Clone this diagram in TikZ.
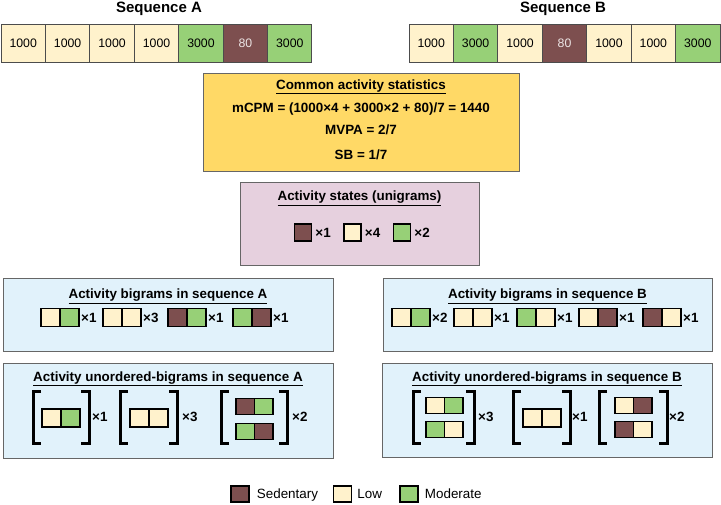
\documentclass[tikz,border=0pt]{standalone}
\usepackage{fontspec}
\setmainfont{Liberation Sans}
\usetikzlibrary{positioning}
\definecolor{lowfill}{HTML}{FFF2CC}
\definecolor{modfill}{HTML}{97D077}
\definecolor{sedfill}{HTML}{7D4F4F}
\definecolor{statfill}{HTML}{FFD966}
\definecolor{unifill}{HTML}{E6D0DE}
\definecolor{bifill}{HTML}{E1F2FB}
\definecolor{edgegray}{HTML}{666666}

\tikzset{
  lowc/.style={fill=lowfill},
  modc/.style={fill=modfill},
  sedc/.style={fill=sedfill,text=white!85!sedfill},
  seqcell/.style={draw=black!70,line width=1pt,minimum width=44.4pt,minimum height=38pt,
    inner sep=0pt,outer sep=0pt,font=\fontsize{12.3}{14}\selectfont},
  seqtitle/.style={font=\fontsize{15}{17}\selectfont\bfseries,inner sep=0pt,anchor=base},
  panel/.style={draw=edgegray,line width=1pt,inner sep=0pt,outer sep=0pt},
  heading/.style={font=\fontsize{13.4}{15}\selectfont\bfseries,inner sep=0pt,anchor=base},
  bi/.style={draw=black,line width=1.2pt,minimum width=19pt,minimum height=18pt,inner sep=0pt,outer sep=0pt},
  smallbi/.style={minimum width=18.5pt,minimum height=16.5pt},
  cnt/.style={font=\fontsize{13.4}{15}\selectfont\bfseries,inner sep=0pt},
  bracket/.style={line width=3pt},
  key/.style={draw=black,line width=1.5pt,minimum width=17pt,minimum height=17pt,inner sep=0pt},
  keytext/.style={font=\fontsize{13.4}{15}\selectfont,inner sep=0pt,text depth=0pt},
}

% two coloured cells side by side
\newcommand{\duo}[5][]{%
  \node[bi,#1,#4,anchor=west] (#2-l) at (#3) {};
  \node[bi,#1,#5,right=0pt of #2-l] (#2-r) {};}

% square bracket: #1 = x of the spine, #2 = side it opens to (1 or -1)
\newcommand{\brak}[2]{%
  \draw[bracket] ({#1+8*#2},391) -- (#1,391) -- (#1,443) -- ({#1+8*#2},443);}

\begin{document}
\begin{tikzpicture}[x=1pt,y=-1pt]
	\useasboundingbox (0,0) rectangle (721,504);
	% Sequences
	\node[seqtitle] (seqA) at (159,12) {Sequence A};
	\node[seqtitle] (seqB) at (563,12) {Sequence B};
	\foreach \v/\c [count=\i] in {1000/lowc,1000/lowc,1000/lowc,1000/lowc,3000/modc,80/sedc,3000/modc}
		\node[seqcell,\c] (a\i) at ({1+44.43*(\i-0.5)},43) {\v};
	\foreach \v/\c [count=\i] in {1000/lowc,3000/modc,1000/lowc,80/sedc,1000/lowc,1000/lowc,3000/modc}
		\node[seqcell,\c] (b\i) at ({409+44.43*(\i-0.5)},43) {\v};

	% Common statistics
	\node[panel,fill=statfill,minimum width=316pt,minimum height=98pt] (stats) at (361,122) {};
	\node[heading] (stats-t) at (361,89.5) {\underline{Common activity statistics}};
	\node[heading] (stats-1) at (361,112.5) {mCPM = (1000×4 + 3000×2 + 80)/7 = 1440};
	\node[heading] (stats-2) at (361,134.5) {MVPA = 2/7};
	\node[heading] (stats-3) at (361,159) {SB = 1/7};

	% Unigrams
	\node[panel,fill=unifill,minimum width=239pt,minimum height=83pt] (uni) at (359.5,223.5) {};
	\node[heading] (uni-t) at (359.5,200.5) {\underline{Activity states (unigrams)}};
	\node[key,sedc] (u1) at (303,232.5) {};
	\node[cnt,right=3pt of u1] (u1-n) {×1};
	\node[key,lowc] (u2) at (352.5,232.5) {};
	\node[cnt,right=3pt of u2] (u2-n) {×4};
	\node[key,modc] (u3) at (402,232.5) {};
	\node[cnt,right=3pt of u3] (u3-n) {×2};

	% Bigrams in A
	\node[panel,fill=bifill,minimum width=330pt,minimum height=73pt] (biA) at (168,314.5) {};
	\node[heading] (biA-t) at (168,298.5) {\underline{Activity bigrams in sequence A}};
	\duo{ba1}{41,317.5}{lowc}{modc}
	\node[cnt,right=2pt of ba1-r] (ba1-n) {×1};
	\duo{ba2}{103,317.5}{lowc}{lowc}
	\node[cnt,right=2pt of ba2-r] (ba2-n) {×3};
	\duo{ba3}{168,317.5}{sedc}{modc}
	\node[cnt,right=2pt of ba3-r] (ba3-n) {×1};
	\duo{ba4}{233,317.5}{modc}{sedc}
	\node[cnt,right=2pt of ba4-r] (ba4-n) {×1};

	% Bigrams in B
	\node[panel,fill=bifill,minimum width=329pt,minimum height=73pt] (biB) at (547.5,314.5) {};
	\node[heading] (biB-t) at (547.5,298.5) {\underline{Activity bigrams in sequence B}};
	\duo{bb1}{392,317.5}{lowc}{modc}
	\node[cnt,right=2pt of bb1-r] (bb1-n) {×2};
	\duo{bb2}{454,317.5}{lowc}{lowc}
	\node[cnt,right=2pt of bb2-r] (bb2-n) {×1};
	\duo{bb3}{517,317.5}{modc}{lowc}
	\node[cnt,right=2pt of bb3-r] (bb3-n) {×1};
	\duo{bb4}{579,317.5}{lowc}{sedc}
	\node[cnt,right=2pt of bb4-r] (bb4-n) {×1};
	\duo{bb5}{643,317.5}{sedc}{lowc}
	\node[cnt,right=2pt of bb5-r] (bb5-n) {×1};

	% Unordered bigrams in A
	\node[panel,fill=bifill,minimum width=330pt,minimum height=95pt] (unA) at (168,410.5) {};
	\node[heading] (unA-t) at (168,381) {\underline{Activity unordered-bigrams in sequence A}};
	\brak{33}{1} \brak{89}{-1}
	\duo{ua1}{42,418}{lowc}{modc}
	\node[cnt,anchor=west] (ua1-n) at (92,417) {×1};
	\brak{120}{1} \brak{177}{-1}
	\duo{ua2}{130,418}{lowc}{lowc}
	\node[cnt,anchor=west] (ua2-n) at (182,417) {×3};
	\brak{221}{1} \brak{287}{-1}
	\duo[smallbi]{ua3}{236,406.5}{sedc}{modc}
	\duo[smallbi]{ua4}{236,431.5}{modc}{sedc}
	\node[cnt,anchor=west] (ua3-n) at (292,417) {×2};

	% Unordered bigrams in B
	\node[panel,fill=bifill,minimum width=330pt,minimum height=94pt] (unB) at (547,410) {};
	\node[heading] (unB-t) at (547,381) {\underline{Activity unordered-bigrams in sequence B}};
	\brak{413}{1} \brak{474}{-1}
	\duo[smallbi]{ub1}{426,405.5}{lowc}{modc}
	\duo[smallbi]{ub2}{426,429.5}{modc}{lowc}
	\node[cnt,anchor=west] (ub1-n) at (478,417) {×3};
	\brak{513}{1} \brak{570}{-1}
	\duo{ub3}{523,418}{lowc}{lowc}
	\node[cnt,anchor=west] (ub3-n) at (572,417) {×1};
	\brak{599}{1} \brak{667}{-1}
	\duo[smallbi]{ub4}{615,405.5}{lowc}{sedc}
	\duo[smallbi]{ub5}{615,429.5}{sedc}{lowc}
	\node[cnt,anchor=west] (ub4-n) at (669,417) {×2};

	% Legend
	\node[key,sedc,minimum height=16pt,minimum width=18pt] (k1) at (240,494) {};
	\node[keytext,right=7pt of k1] (k1-t) {Sedentary};
	\node[key,lowc,minimum height=16pt,minimum width=18pt] (k2) at (342.5,494) {};
	\node[keytext,right=5pt of k2] (k2-t) {Low};
	\node[key,modc,minimum height=16pt,minimum width=18pt] (k3) at (409,494) {};
	\node[keytext,right=6pt of k3] (k3-t) {Moderate};
\end{tikzpicture}
\end{document}
